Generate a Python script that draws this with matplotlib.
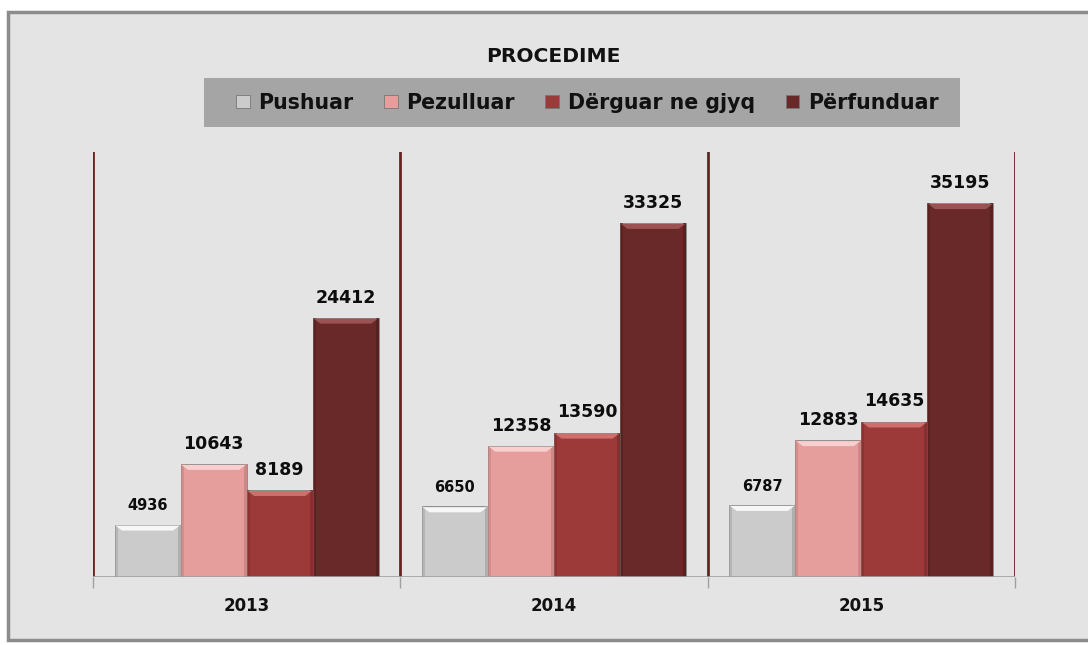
import matplotlib
matplotlib.use("Agg")
import matplotlib.pyplot as plt
from matplotlib.patches import Rectangle, Polygon
import numpy as np

years = ["2013", "2014", "2015"]
series = ["Pushuar", "Pezulluar", "Dërguar ne gjyq", "Përfunduar"]
pushuar = [4936, 6650, 6787]
pezulluar = [10643, 12358, 12883]
derguar = [8189, 13590, 14635]
perfunduar = [24412, 33325, 35195]
values = [pushuar, pezulluar, derguar, perfunduar]
colors = ["#cbcbcb", "#e59e9c", "#9c3a3a", "#6a2929"]
highlights = ["#f7f7f7", "#f8cfcd", "#cf6f6d", "#9a5252"]
shades = ["#a9a9a9", "#c98381", "#842c2c", "#561d1d"]
label_sizes = [10.5, 12.5, 12.5, 12.5]

W, H = 1088, 645
fig = plt.figure(figsize=(W / 100, H / 100), dpi=100)
fig.patch.set_facecolor("white")

# outer chart frame (extends past right edge like the reference)
frame = Rectangle((8 / W, 1 - 640 / H), (W + 20) / W, (640 - 12) / H,
                  transform=fig.transFigure, facecolor="#e4e4e4",
                  edgecolor="#8c8c8c", linewidth=2.5, zorder=0)
fig.patches.append(frame)

ax = fig.add_axes([93 / W, 1 - 577 / H, (1015 - 93) / W, (577 - 152) / H])
ax.set_zorder(3)
ax.set_facecolor("none")
for s in ax.spines.values():
    s.set_visible(False)

ax.set_xlim(-0.5, 2.5)
ax.set_ylim(0, 40000)

x = np.arange(len(years))
bw = 0.215
offsets = (np.arange(4) - 1.5) * bw
# pixel -> data helpers for bevel size
px_x = 3.0 / 922 * 3.0      # 3 px in x data units
px_y = 40000 / 425.0         # 1 px in y data units
for i, (vals, c, hc, sc) in enumerate(zip(values, colors, highlights, shades)):
    bars = ax.bar(x + offsets[i], vals, width=bw, color=c, edgecolor="#8f8f8f",
                  linewidth=0.7, zorder=3)
    for b, v in zip(bars, vals):
        x0 = b.get_x()
        x1 = x0 + bw
        # side shading
        ax.add_patch(Rectangle((x0, 0), px_x, v, facecolor=sc, edgecolor="none",
                               alpha=0.6, zorder=4))
        ax.add_patch(Rectangle((x1 - px_x, 0), px_x, v, facecolor=sc, edgecolor="none",
                               alpha=0.8, zorder=4))
        # bevel highlight on top (trapezoid)
        ax.add_patch(Polygon([(x0 + px_x * 0.3, v - px_y), (x1 - px_x * 0.3, v - px_y),
                              (x1 - 2.5 * px_x, v - 6 * px_y), (x0 + 2.5 * px_x, v - 6 * px_y)],
                             closed=True, facecolor=hc, edgecolor="none", zorder=4))
        ax.annotate(str(v), (x0 + bw / 2, v), xytext=(0, 8),
                    textcoords="offset points", ha="center", va="bottom",
                    fontsize=label_sizes[i], fontweight="bold",
                    family="DejaVu Sans", color="#0d0d0d", zorder=5)

for bnd in [-0.5, 0.5, 1.5, 2.5]:
    ax.axvline(bnd, ymin=0, ymax=1, color="#6a2323", linewidth=2, zorder=2)
ax.axhline(0, color="#a0a0a0", linewidth=1.2, zorder=6)
ax.set_yticks([])
ax.set_xticks([-0.5, 0.5, 1.5, 2.5])
ax.set_xticklabels([])
ax.tick_params(axis="x", length=8, color="#a0a0a0", width=1)
for xi, yl in zip(x, years):
    ax.text(xi, -0.068, yl, transform=ax.get_xaxis_transform(), ha="center",
            va="center", fontsize=12, fontweight="bold", family="DejaVu Sans",
            color="#111111")

# title
fig.text(553 / W, 1 - 57 / H, "PROCEDIME", ha="center", va="center",
         fontsize=14.6, fontweight="bold", family="DejaVu Sans", color="#111111")

# legend box
lbox = Rectangle((204 / W, 1 - 127 / H), (960 - 204) / W, (127 - 78) / H,
                 transform=fig.transFigure, facecolor="#a5a5a5",
                 edgecolor="none", zorder=1)
fig.patches.append(lbox)
handles = [Rectangle((0, 0), 1, 1, facecolor=c, edgecolor="#777777", linewidth=0.6)
           for c in colors]
leg = fig.legend(handles, series, loc="center", bbox_to_anchor=(587 / W, 1 - 103 / H),
                 ncol=4, frameon=False, handlelength=0.68, handleheight=0.6,
                 handletextpad=0.4, columnspacing=1.5,
                 prop={"family": "DejaVu Sans", "weight": "bold", "size": 14.8})
leg.set_zorder(4)
for t in leg.get_texts():
    t.set_color("#111111")

fig.savefig("out.png", dpi=100, facecolor=fig.get_facecolor())
